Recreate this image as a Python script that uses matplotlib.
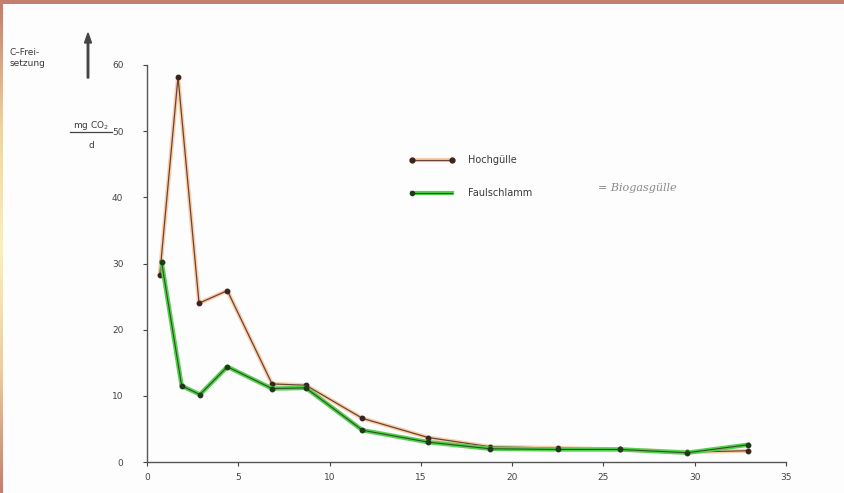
import matplotlib
matplotlib.use("Agg")
import matplotlib.pyplot as plt
import numpy as np
from matplotlib.lines import Line2D
from matplotlib.patches import Rectangle

# Data (days vs. mg CO2 / d)
days_hoch = [0.7, 1.7, 2.85, 4.4, 6.85, 8.7, 11.8, 15.4, 18.8, 22.5, 25.9, 29.6, 32.9]
hochguelle = [28.3, 58.2, 24.0, 25.9, 11.8, 11.6, 6.6, 3.7, 2.3, 2.1, 1.9, 1.5, 1.7]
days_faul = [0.8, 1.9, 2.9, 4.4, 6.85, 8.7, 11.8, 15.4, 18.8, 22.5, 25.9, 29.6, 32.9]
faulschlamm = [30.2, 11.5, 10.2, 14.4, 11.1, 11.2, 4.8, 3.0, 2.0, 1.9, 1.9, 1.4, 2.6]

x_ticks = [0, 5, 10, 15, 20, 25, 30, 35]
x_labels = ["0", "5", "10", "15", "20", "25", "30", "35"]
y_ticks = [0, 10, 20, 30, 40, 50, 60]
y_labels = ["0", "10", "20", "30", "40", "50", "60"]

W, H = 844, 493
fig = plt.figure(figsize=(W / 100, H / 100), dpi=100)
fig.patch.set_facecolor("#fdfdfd")

ax = fig.add_axes([147 / W, 1 - 462 / H, (786 - 147) / W, (462 - 65) / H])
ax.set_facecolor("none")
ax.set_xlim(0, 35)
ax.set_ylim(0, 60)
for s in ["top", "right"]:
    ax.spines[s].set_visible(False)
for s in ["left", "bottom"]:
    ax.spines[s].set_color("#555555")
    ax.spines[s].set_linewidth(1.0)
ax.set_xticks(x_ticks)
ax.set_xticklabels(x_labels)
ax.set_yticks(y_ticks)
ax.set_yticklabels(y_labels)
ax.tick_params(axis="both", labelsize=6.5, colors="#444444", length=3, width=0.8)
ax.tick_params(axis="y", pad=14)
ax.tick_params(axis="x", pad=5)

# Hochgülle: orange halo + dark brown core
ax.plot(days_hoch, hochguelle, color="#f8cfa8", lw=3.0, zorder=2)
ax.plot(days_hoch, hochguelle, color="#6e4038", lw=0.9, marker="o", ms=3.2,
        mfc="#3a2420", mec="#3a2420", zorder=3)
# Faulschlamm: green with dark edge
ax.plot(days_faul, faulschlamm, color="#55d04e", lw=3.2, zorder=4)
ax.plot(days_faul, faulschlamm, color="#2d4f26", lw=0.8, marker="o", ms=3.2,
        mfc="#1f3a1a", mec="#1f3a1a", zorder=5)

# Legend (manual)
def lx(px):
    return (px - 147) / (786 - 147)

def ly(py):
    return (462 - py) / (462 - 65)

ax.plot([lx(412), lx(452)], [ly(160), ly(160)], transform=ax.transAxes, color="#f8cfa8", lw=3, clip_on=False)
ax.plot([lx(412), lx(452)], [ly(160), ly(160)], transform=ax.transAxes, color="#6e4038", lw=0.9,
        marker="o", ms=3.5, mfc="#3a2420", mec="#3a2420", markevery=[0, 1], clip_on=False)
ax.plot([lx(412), lx(452)], [ly(193), ly(193)], transform=ax.transAxes, color="#55d04e", lw=3, clip_on=False)
ax.plot([lx(412), lx(452)], [ly(193), ly(193)], transform=ax.transAxes, color="#2d4f26", lw=0.8,
        marker="o", ms=3.0, mfc="#1f3a1a", mec="#1f3a1a", markevery=[0], clip_on=False)
fig.text(468 / W, 1 - 160 / H, "Hochgülle", fontsize=7, color="#3a3a3a", va="center", ha="left")
fig.text(468 / W, 1 - 193 / H, "Faulschlamm", fontsize=7, color="#3a3a3a", va="center", ha="left")
fig.text(598 / W, 1 - 188 / H, "= Biogasgülle", fontsize=8, color="#8a8a8a", va="center", ha="left",
         family="DejaVu Serif", style="italic")

# Y-axis label block
fig.text(10 / W, 1 - 58 / H, "C–Frei-\nsetzung", fontsize=6.5, color="#3a3a3a", va="center", ha="left",
         linespacing=1.3)
fig.add_artist(matplotlib.patches.FancyArrow(88 / W, 1 - 78 / H, 0, 45 / H, width=1.5 / W,
                                             head_width=7 / W, head_length=10 / H,
                                             length_includes_head=True, color="#444444",
                                             transform=fig.transFigure))
fig.text(91 / W, 1 - 125 / H, "mg CO$_2$", fontsize=6.5, color="#3a3a3a", va="center", ha="center")
fig.add_artist(Line2D([70 / W, 112 / W], [1 - 132 / H, 1 - 132 / H], color="#444444", lw=0.9,
                      transform=fig.transFigure))
fig.text(91 / W, 1 - 146 / H, "d", fontsize=6.5, color="#3a3a3a", va="center", ha="center")

# Scan border (top band and left strip)
fig.add_artist(Rectangle((0, 1 - 4 / H), 1, 4 / H, transform=fig.transFigure,
                         color="#c47e70", lw=0, zorder=10))
strip = fig.add_axes([0, 0, 3 / W, 1 - 4 / H])
grad = np.linspace(0, 1, 100)
cols = np.array([[196, 126, 112], [238, 212, 160], [250, 240, 190], [235, 205, 160], [196, 126, 112]]) / 255
pos = np.linspace(0, 1, len(cols))
img = np.stack([np.interp(grad, pos, cols[:, i]) for i in range(3)], axis=-1)[:, None, :]
strip.imshow(img, aspect="auto")
strip.axis("off")

fig.savefig("out.png", dpi=100, facecolor=fig.get_facecolor())
